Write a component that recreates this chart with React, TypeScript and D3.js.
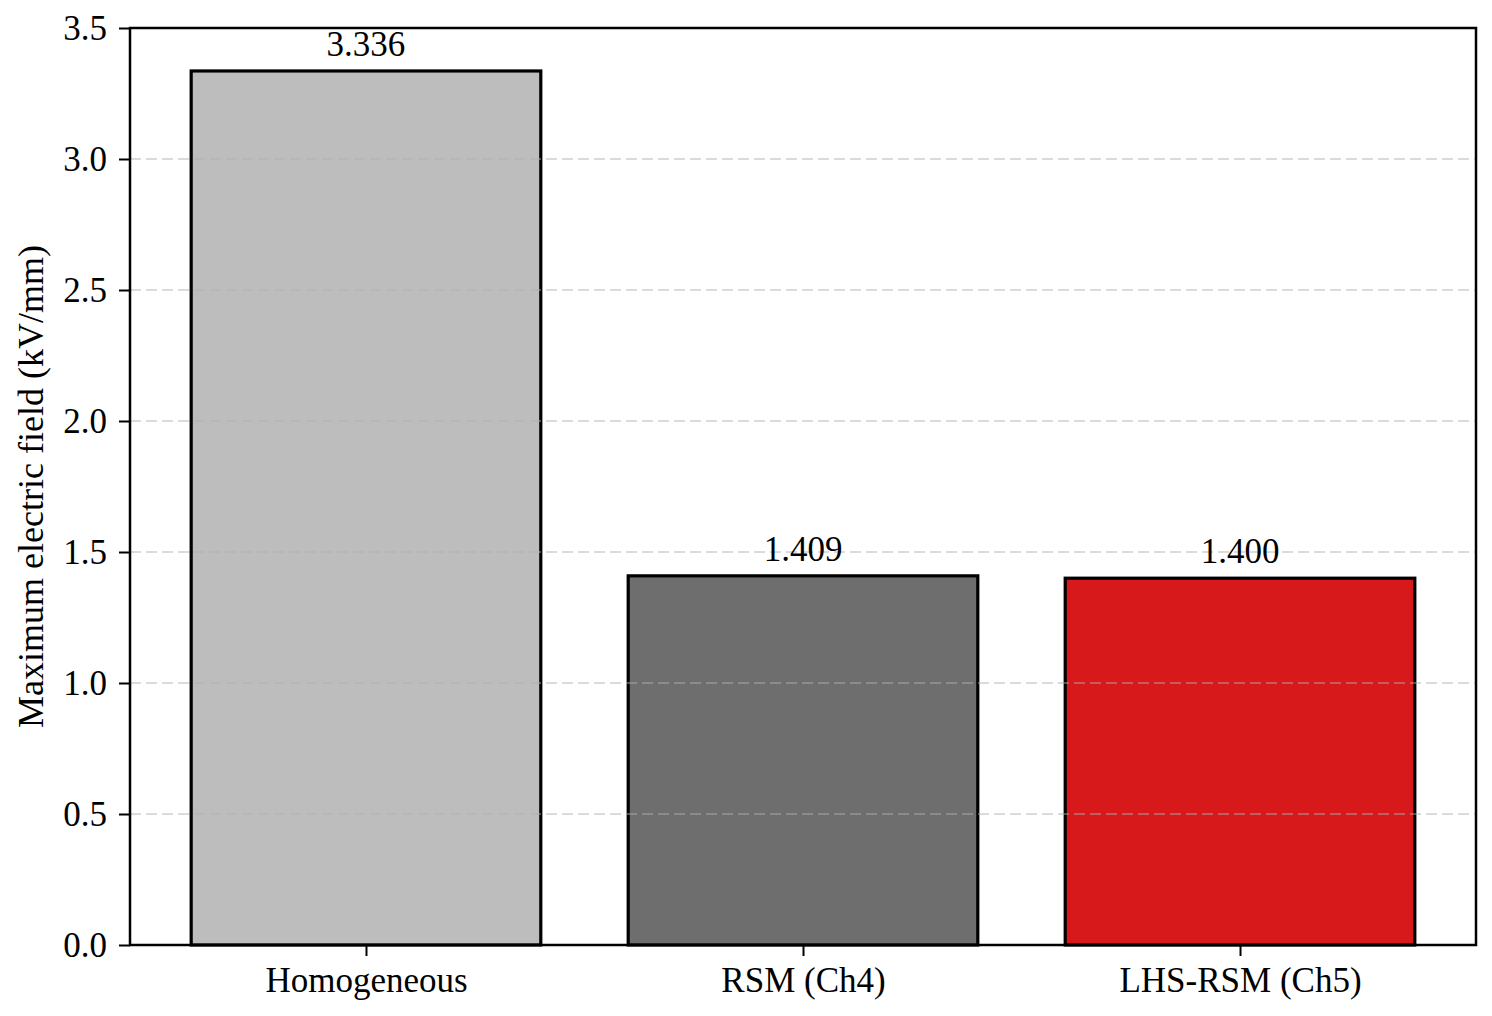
import * as d3 from "d3";
import { useEffect, useRef } from "react";

const categories = ["Homogeneous", "RSM (Ch4)", "LHS-RSM (Ch5)"];
const values = [3.336, 1.409, 1.4];
const valueLabels = ["3.336", "1.409", "1.400"];
const barColors = ["#bdbdbd", "#6e6e6e", "#d7191c"];
const yTicks = [0, 0.5, 1.0, 1.5, 2.0, 2.5, 3.0, 3.5];

export default function App() {
  const svgRef = useRef<SVGSVGElement | null>(null);
  const width = 1492;
  const height = 1016;
  const margin = { top: 28, right: 16, bottom: 71, left: 130 };

  useEffect(() => {
    if (!svgRef.current) return;
    const svg = d3.select(svgRef.current);
    svg.selectAll("*").remove();

    const font = "'Liberation Serif', 'Times New Roman', serif";
    const x0 = margin.left;
    const x1 = width - margin.right;
    const y0 = height - margin.bottom;
    const y1 = margin.top;

    // bar centres at 0,1,2 with matplotlib-like margins
    const x = d3.scaleLinear().domain([-0.54, 2.54]).range([x0, x1]);
    const y = d3.scaleLinear().domain([0, 3.5]).range([y0, y1]);
    const barW = x(0.8) - x(0);

    svg.append("rect").attr("width", width).attr("height", height).attr("fill", "#fff");

    // bars
    svg
      .selectAll(".bar")
      .data(values)
      .enter()
      .append("rect")
      .attr("class", "bar")
      .attr("x", (_, i) => x(i) - barW / 2)
      .attr("y", (d) => y(d))
      .attr("width", barW)
      .attr("height", (d) => y(0) - y(d))
      .attr("fill", (_, i) => barColors[i])
      .attr("stroke", "#000")
      .attr("stroke-width", 3.2);

    // grid drawn over bars
    svg
      .append("g")
      .selectAll("line")
      .data(yTicks.filter((t) => t > 0 && t < 3.5))
      .enter()
      .append("line")
      .attr("x1", x0)
      .attr("x2", x1)
      .attr("y1", (d) => y(d))
      .attr("y2", (d) => y(d))
      .attr("stroke", "#b0b0b0")
      .attr("stroke-opacity", 0.45)
      .attr("stroke-width", 2)
      .attr("stroke-dasharray", "11,5");

    // value labels
    svg
      .selectAll(".val")
      .data(values)
      .enter()
      .append("text")
      .attr("class", "val")
      .attr("x", (_, i) => x(i))
      .attr("y", (d) => y(d) - 15)
      .attr("text-anchor", "middle")
      .style("font-family", font)
      .style("font-size", "35px")
      .attr("fill", "#000")
      .text((_, i) => valueLabels[i]);

    // axes
    const yAxis = d3
      .axisLeft(y)
      .tickValues(yTicks)
      .tickFormat(d3.format(".1f"))
      .tickSize(11)
      .tickPadding(12);
    const gy = svg.append("g").attr("transform", `translate(${x0},0)`).call(yAxis);

    const xAxis = d3
      .axisBottom(x)
      .tickValues([0, 1, 2])
      .tickFormat((d) => categories[d as number])
      .tickSize(11)
      .tickPadding(11);
    const gx = svg.append("g").attr("transform", `translate(0,${y0})`).call(xAxis);

    [gx, gy].forEach((g) => {
      g.select(".domain").remove();
      g.selectAll("line").attr("stroke", "#000").attr("stroke-width", 2);
      g.selectAll("text")
        .style("font-family", font)
        .style("font-size", "35px")
        .attr("fill", "#000");
    });

    // frame
    svg
      .append("rect")
      .attr("x", x0)
      .attr("y", y1)
      .attr("width", x1 - x0)
      .attr("height", y0 - y1)
      .attr("fill", "none")
      .attr("stroke", "#000")
      .attr("stroke-width", 2.5);

    // y label
    svg
      .append("text")
      .attr("transform", `translate(43,${(y0 + y1) / 2}) rotate(-90)`)
      .attr("text-anchor", "middle")
      .style("font-family", font)
      .style("font-size", "36px")
      .attr("fill", "#000")
      .text("Maximum electric field (kV/mm)");
  }, []);

  return (
    <svg
      ref={svgRef}
      width={width}
      height={height}
      style={{ position: "absolute", left: 0, top: 0 }}
    />
  );
}
